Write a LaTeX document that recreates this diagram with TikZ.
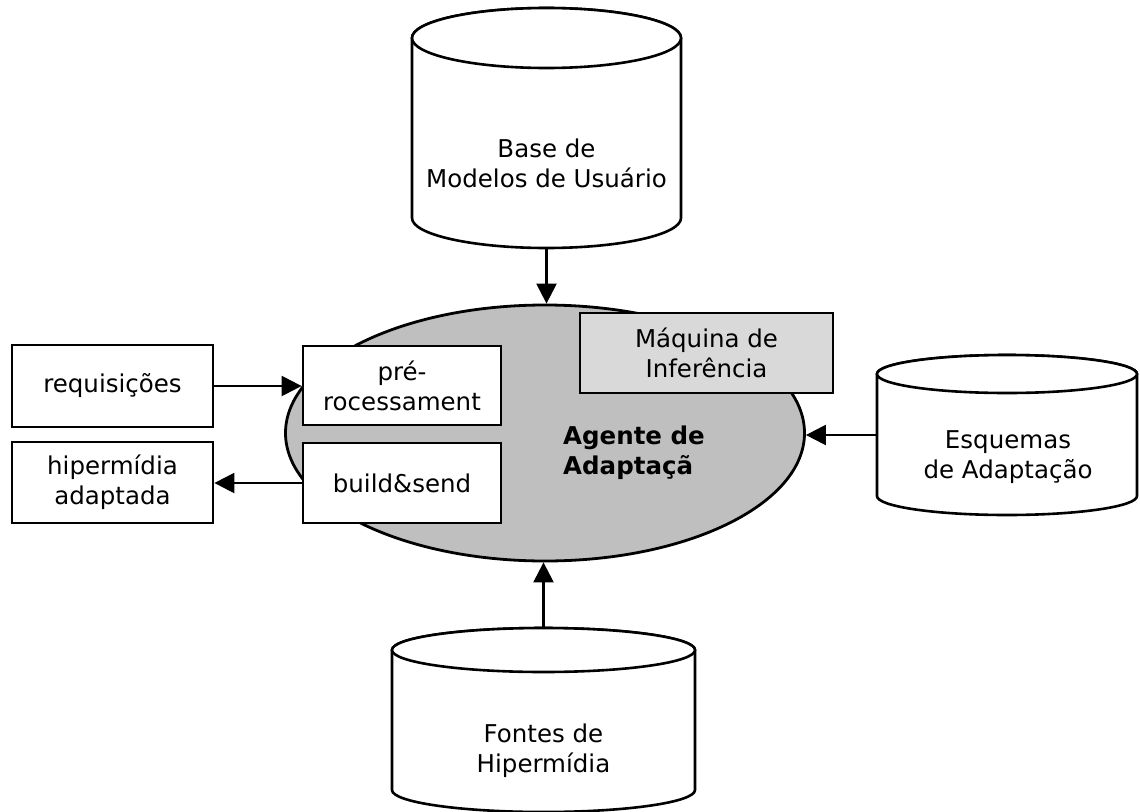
\documentclass[tikz,border=0pt]{standalone}
\usepackage{fontspec}
\setmainfont{DejaVu Sans}
\usetikzlibrary{arrows.meta,shapes.geometric}
% database drawing: #1 centre x, #2 x radius, #3 top cap y, #4 bottom cap y, #5 cap y radius
\newcommand\drawdb[5]{%
  \filldraw[cyl] ({#1-#2},#3) -- ({#1-#2},#4)
    arc[start angle=180,end angle=360,x radius=#2 pt,y radius=#5 pt]
    -- ({#1+#2},#3)
    arc[start angle=0,end angle=180,x radius=#2 pt,y radius=#5 pt] -- cycle;
  \draw[cyl] (#1,#3) ellipse[x radius=#2 pt,y radius=#5 pt];
}
\begin{document}
\begin{tikzpicture}[x=1pt,y=1pt,
  txt/.style={font=\fontsize{24.5}{30}\selectfont, align=center, inner sep=0pt},
  box/.style={txt, draw, line width=2.8pt, fill=white},
  cyl/.style={draw, line width=2.6pt, fill=white},
  link/.style={line width=2.4pt, -{Triangle[length=20pt,width=20pt]}}
]
\clip (0,0) rectangle (1140,-811);
\fill[white] (0,0) rectangle (1140,-811);

% the adaptation agent
\node[ellipse, draw, line width=2.8pt, fill=black!25, minimum width=519pt,
      minimum height=256pt, inner sep=0pt] (agent) at (545,-433) {};
\node[txt, font=\fontsize{24.5}{30}\selectfont\bfseries, align=left, anchor=west]
      (agtxt) at (563,-453) {Agente de\\Adaptaçã};

% databases
\drawdb{546.5}{134.5}{-38}{-218}{30}
\node[txt] (utxt) at (546.5,-163) {Base de\\Modelos de Usuário};
\coordinate (ubot) at (546.5,-248);

\drawdb{1007}{130}{-374}{-496}{19}
\node[txt] (etxt) at (1008,-457) {Esquemas\\de Adaptação};
\coordinate (eleft) at (877,-435);

\drawdb{543.5}{151.5}{-650}{-790}{22}
\node[txt] (ftxt) at (543.5,-751) {Fontes de\\Hipermídia};
\coordinate (ftop) at (543.5,-628);

% boxes
\node[box, minimum width=201pt, minimum height=82pt] (req) at (112.5,-386) {requisições};
\node[box, minimum width=201pt, minimum height=81pt] (hip) at (112.5,-482.5) {hipermídia\\adaptada};
\node[box, minimum width=198pt, minimum height=79pt] (pre) at (402,-385.5) {pré-\\rocessament};
\node[box, minimum width=198pt, minimum height=80pt] (bs) at (402,-483) {build\&send};
\node[box, fill=black!15, minimum width=253pt, minimum height=80pt] (inf) at (706.5,-353) {Máquina de\\Inferência};

% connectors
\draw[link] (ubot) -- (ubot |- agent.north);
\draw[link] (ftop) -- (ftop |- agent.south);
\draw[link] (eleft) -- (agent.east |- eleft);
\draw[link] (req.east) -- (req.east -| pre.west);
\draw[link] (bs.west) -- (bs.west -| hip.east);
\end{tikzpicture}
\end{document}
